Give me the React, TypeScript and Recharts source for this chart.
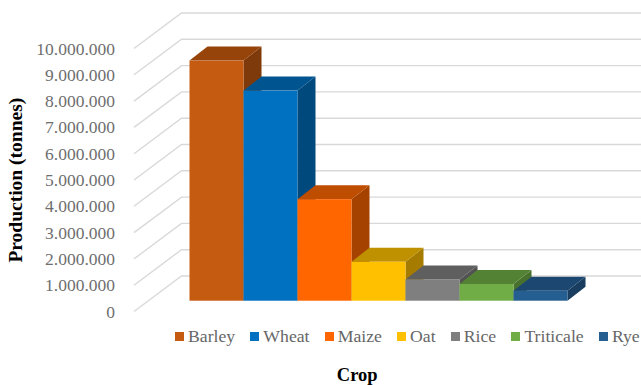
import { BarChart, Bar, XAxis, YAxis, CartesianGrid, Legend } from "recharts";

const crops = ["Barley", "Wheat", "Maize", "Oat", "Rice", "Triticale", "Rye"];
const production = [9130000, 7990000, 3860000, 1480000, 810000, 635000, 380000];
const yTicks = [0, 1000000, 2000000, 3000000, 4000000, 5000000, 6000000, 7000000, 8000000, 9000000, 10000000];

const frontColours = ["#C55A11", "#0070C0", "#FF6600", "#FFC000", "#7F7F7F", "#70AD47", "#255E91"];
const topColours = ["#964409", "#005490", "#BF4D00", "#BF9000", "#5F5F5F", "#548235", "#1C4770"];
const sideColours = ["#7F3A0B", "#00497D", "#A64200", "#A67C00", "#525252", "#49712E", "#183D5E"];

const row: Record<string, string | number> = { name: "Crop" };
crops.forEach((c, i) => {
  row[c] = production[i];
});
const data = [row];

const WIDTH = 641;
const HEIGHT = 385;
const SERIF = '"Liberation Serif", serif';

// fake 3D: bar depth, and how the floor sits around the bars
const DEPTH_X = 18;
const DEPTH_Y = 14;
const WALL_FRONT_X = 134;
const WALL_BACK_X = 181.5;
const FRONT_DROP = 10.8;
const BACK_RISE = 24.7;

function Bar3D(props: any) {
  const { x, y, width, height, index } = props;
  const right = x + width;
  const bottom = y + height;
  return (
    <g>
      <polygon
        points={`${right},${y} ${right + DEPTH_X},${y - DEPTH_Y} ${right + DEPTH_X},${bottom - DEPTH_Y} ${right},${bottom}`}
        fill={sideColours[index]}
      />
      <polygon
        points={`${x},${y} ${x + DEPTH_X},${y - DEPTH_Y} ${right + DEPTH_X},${y - DEPTH_Y} ${right},${y}`}
        fill={topColours[index]}
      />
      <rect x={x} y={y} width={width} height={height} fill={frontColours[index]} />
    </g>
  );
}

// oblique run along the side wall, then straight across the back wall
function WallLine(props: any) {
  const { y1, index } = props;
  return (
    <polyline
      key={index}
      points={`${WALL_FRONT_X},${y1 + FRONT_DROP} ${WALL_BACK_X},${y1 - BACK_RISE} ${WIDTH},${y1 - BACK_RISE}`}
      fill="none"
      stroke="#D9D9D9"
      strokeWidth={1.4}
    />
  );
}

function YTick(props: any) {
  const { y, payload } = props;
  const label = String(payload.value).replace(/\B(?=(\d{3})+(?!\d))/g, ".");
  return (
    <text x={115} y={y + FRONT_DROP + 6} textAnchor="end" fontFamily={SERIF} fontSize={17.5} fill="#6E6E6E">
      {label}
    </text>
  );
}

function CropLegend({ payload }: any) {
  // keep crop order, not the alphabetical one the legend hands over
  const items = [...(payload ?? [])].sort((a: any, b: any) => crops.indexOf(a.value) - crops.indexOf(b.value));
  return (
    <div style={{ display: "flex", whiteSpace: "nowrap", fontFamily: SERIF, fontSize: 17.7, color: "#666" }}>
      {items.map((p: any) => (
        <span key={p.value} style={{ display: "flex", alignItems: "center", marginRight: 15.2 }}>
          <span style={{ width: 9, height: 9, marginRight: 4, background: p.color }} />
          {p.value}
        </span>
      ))}
    </div>
  );
}

export default function App() {
  return (
    <div style={{ position: "absolute", left: 0, top: 0, width: WIDTH, height: HEIGHT, overflow: "hidden", background: "#fff" }}>
      <BarChart
        width={WIDTH}
        height={HEIGHT}
        data={data}
        margin={{ top: 37.7, right: 72, bottom: 0, left: 0 }}
        barGap={0}
        barCategoryGap={0}
      >
        <CartesianGrid vertical={false} horizontal={WallLine} />
        <XAxis
          dataKey="name"
          height={84.3}
          tick={false}
          axisLine={false}
          tickLine={false}
          label={{
            value: "Crop",
            position: "insideBottom",
            offset: 0,
            dx: -22,
            dy: -4,
            style: { fontFamily: SERIF, fontSize: 18.5, fontWeight: 700, fill: "#000" },
          }}
        />
        <YAxis
          width={189.5}
          domain={[0, 10000000]}
          ticks={yTicks}
          interval={0}
          axisLine={false}
          tickLine={false}
          tick={YTick}
          label={{
            value: "Production (tonnes)",
            angle: -90,
            position: "insideLeft",
            dx: 10,
            dy: 11,
            style: { fontFamily: SERIF, fontSize: 19.5, fontWeight: 700, fill: "#000", textAnchor: "middle" },
          }}
        />
        <Legend
          layout="horizontal"
          verticalAlign="middle"
          align="center"
          content={CropLegend}
          wrapperStyle={{ left: 175, top: 326, width: 480, bottom: "auto", right: "auto" }}
        />
        {crops.map((c, i) => (
          <Bar
            key={c}
            dataKey={c}
            fill={frontColours[i]}
            isAnimationActive={false}
            shape={(p: any) => <Bar3D {...p} index={i} />}
          />
        ))}
      </BarChart>
    </div>
  );
}
